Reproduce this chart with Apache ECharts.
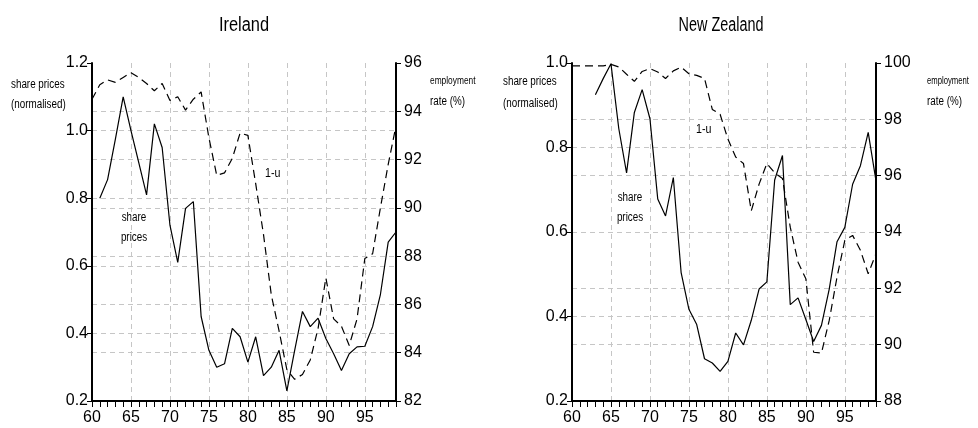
<!DOCTYPE html>
<html>
<head>
<meta charset="utf-8">
<style>
  html, body { margin: 0; padding: 0; background: #fff; }
  #chart { width: 978px; height: 428px; }
</style>
<script src="https://cdn.jsdelivr.net/npm/echarts@6/dist/echarts.min.js"></script>
</head>
<body>
<div id="chart"></div>
<script>
// Year axis (two-digit years, 1960-1999)
const years = [60,61,62,63,64,65,66,67,68,69,70,71,72,73,74,75,76,77,78,79,
               80,81,82,83,84,85,86,87,88,89,90,91,92,93,94,95,96,97,98,99];

// Ireland: normalised share prices (from 1961) and employment rate 1-u (%)
const irelandShareStart = 61;
const irelandShare = [0.80,0.855,0.975,1.10,1.0,0.905,0.81,1.02,0.95,
                      0.72,0.61,0.77,0.79,0.45,0.35,0.30,0.31,0.415,0.39,
                      0.315,0.39,0.275,0.30,0.35,0.23,0.35,0.465,0.42,0.445,
                      0.385,0.34,0.29,0.34,0.36,0.362,0.42,0.515,0.67,0.70];
const irelandEmp = [94.5,95.1,95.3,95.2,95.4,95.6,95.4,95.15,94.85,95.15,
                    94.45,94.6,94.05,94.5,94.8,92.9,91.35,91.45,92.05,93.1,
                    93.0,91.0,88.9,86.4,84.9,83.3,82.9,83.1,83.7,85.0,
                    87.1,85.4,85.1,84.3,85.4,87.9,88.1,90.0,91.8,93.4];

// New Zealand: normalised share prices (from 1963) and employment rate 1-u (%)
const nzShareStart = 63;
const nzShare = [0.925,0.963,0.998,0.845,0.74,0.883,0.937,
                 0.868,0.678,0.638,0.729,0.504,0.417,0.381,0.30,0.29,0.27,
                 0.294,0.361,0.333,0.391,0.465,0.482,0.723,0.781,0.428,0.444,
                 0.393,0.341,0.379,0.465,0.577,0.611,0.713,0.757,0.836,0.721];
const nzEmp = [99.9,99.9,99.9,99.9,99.9,99.95,99.86,99.6,99.35,99.7,
               99.8,99.68,99.45,99.72,99.85,99.62,99.56,99.45,98.35,98.18,
               97.3,96.66,96.43,94.75,95.7,96.43,96.1,95.9,94.17,92.93,
               92.34,89.73,89.7,90.86,92.4,93.7,93.88,93.35,92.52,93.23];

// Axis ranges and tick spacing
const irelandLeftAxis = { min: 0.2, max: 1.2, interval: 0.2 };
const irelandRightAxis = { min: 82, max: 96, interval: 2 };
const nzLeftAxis = { min: 0.2, max: 1.0, interval: 0.2 };
const nzRightAxis = { min: 88, max: 100, interval: 2 };
const yearAxis = { min: 60, max: 99, interval: 5 };

const titles = ['Ireland', 'New Zealand'];

function pairs(start, values) {
  return values.map((v, i) => [start + i, v]);
}

const FONT = "'Liberation Sans', Arial, sans-serif";
const GRID_COLOR = '#c6c6c6';

const grids = [
  { left: 92, top: 63, width: 304, height: 338 },
  { left: 572, top: 63, width: 304, height: 338 }
];

function splitLineStyle() {
  return { show: true, showMinLine: false, showMaxLine: false,
           lineStyle: { color: GRID_COLOR, width: 1, type: [5, 4] } };
}

function yearAxes(gi) {
  return [
    {
      gridIndex: gi, type: 'value', position: 'bottom',
      min: yearAxis.min, max: yearAxis.max, interval: yearAxis.interval,
      axisLine: { show: true, onZero: false, lineStyle: { color: '#000', width: 2 } },
      axisTick: { show: false },
      axisLabel: { show: true, showMaxLabel: false, margin: 9,
                   fontFamily: FONT, fontSize: 16, color: '#000' },
      splitLine: splitLineStyle()
    },
    {
      gridIndex: gi, type: 'value', position: 'bottom',
      min: yearAxis.min, max: yearAxis.max, interval: 1,
      axisLine: { show: false, onZero: false },
      axisTick: { show: true, length: 6, lineStyle: { color: '#000', width: 1 } },
      axisLabel: { show: false },
      splitLine: { show: false }
    }
  ];
}

function valueAxis(gi, pos, range, digits) {
  return {
    gridIndex: gi, type: 'value', position: pos,
    min: range.min, max: range.max, interval: range.interval,
    axisLine: { show: true, onZero: false, lineStyle: { color: '#000', width: 2 } },
    axisTick: { show: true, length: 5, lineStyle: { color: '#000', width: 1 } },
    axisLabel: {
      margin: pos === 'left' ? 4 : 8,
      fontFamily: FONT, fontSize: 16, color: '#000',
      formatter: v => Number(v).toFixed(digits)
    },
    splitLine: splitLineStyle()
  };
}

const xAxes = [...yearAxes(0), ...yearAxes(1)];
const yAxes = [
  valueAxis(0, 'left', irelandLeftAxis, 1),
  valueAxis(0, 'right', irelandRightAxis, 0),
  valueAxis(1, 'left', nzLeftAxis, 1),
  valueAxis(1, 'right', nzRightAxis, 0)
];

function lineSeries(xi, yi, data, dashed) {
  return {
    type: 'line', xAxisIndex: xi, yAxisIndex: yi, data: data,
    showSymbol: false, symbol: 'none', silent: true, animation: false,
    lineStyle: { color: '#000', width: 1.2, type: dashed ? [8, 5] : 'solid' }
  };
}

const series = [
  lineSeries(0, 0, pairs(irelandShareStart, irelandShare), false),
  lineSeries(0, 1, pairs(years[0], irelandEmp), true),
  lineSeries(2, 2, pairs(nzShareStart, nzShare), false),
  lineSeries(2, 3, pairs(years[0], nzEmp), true)
];

// Condensed text: regular face squeezed horizontally around its anchor point
function label(text, x, y, size, align, squeeze) {
  return {
    type: 'text', x: x, y: y, silent: true,
    scaleX: squeeze || 0.82, scaleY: 1,
    style: {
      text: text, font: size + 'px ' + FONT, fill: '#000',
      align: align || 'left', verticalAlign: 'middle',
      textAlign: align || 'left', textVerticalAlign: 'middle'
    }
  };
}

const graphics = [
  label(titles[0], 244, 25, 20, 'center', 0.82),
  label(titles[1], 721, 25, 20, 'center', 0.72),
  // axis captions
  label('share prices', 11, 85, 12),
  label('(normalised)', 11, 105, 12),
  label('employment', 430, 81, 11, 'left', 0.76),
  label('rate (%)', 430, 102, 12),
  label('share prices', 503, 82, 12),
  label('(normalised)', 503, 104, 12),
  label('employment', 927, 81, 11, 'left', 0.7),
  label('rate (%)', 927, 102, 12),
  // series annotations
  label('share', 134, 218, 12, 'center'),
  label('prices', 134, 238, 12, 'center'),
  label('1-u', 265, 173, 13),
  label('share', 630, 198, 12, 'center'),
  label('prices', 630, 218, 12, 'center'),
  label('1-u', 696, 129, 13)
];

const chart = echarts.init(document.getElementById('chart'), null, { renderer: 'canvas' });
chart.setOption({
  backgroundColor: '#fff',
  animation: false,
  grid: grids,
  xAxis: xAxes,
  yAxis: yAxes,
  series: series,
  graphic: graphics
});
</script>
</body>
</html>
